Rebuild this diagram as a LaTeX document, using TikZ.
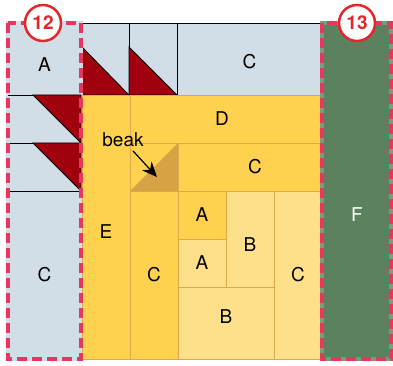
\documentclass[tikz,border=0pt]{standalone}
\usepackage{fontspec}
\setmainfont{TeX Gyre Heros}
\usepackage{xcolor}
\usepackage{tikz}
\usetikzlibrary{arrows.meta}

\definecolor{bluefill}{HTML}{D2DEE7}
\definecolor{redtri}{HTML}{A1000F}
\definecolor{yelfill}{HTML}{FED24E}
\definecolor{lightyel}{HTML}{FEE08B}
\definecolor{beakfill}{HTML}{D6A244}
\definecolor{greenfill}{HTML}{5B815E}
\definecolor{seamcol}{HTML}{DFA848}
\definecolor{cutcol}{HTML}{E8365E}
\definecolor{circcol}{HTML}{E4262A}

\begin{document}
\begin{tikzpicture}[x=1pt, y=-1pt, line width=0.8pt,
  every node/.style={font=\fontsize{19}{22}\selectfont},
  bluepc/.style={fill=bluefill, draw=black},
  bluecell/.style={fill=bluefill},
  redpc/.style={fill=redtri, draw=black},
  yelpc/.style={fill=yelfill, draw=seamcol},
  lightpc/.style={fill=lightyel, draw=seamcol},
  cutline/.style={draw=cutcol, line width=3.6pt, dash pattern=on 10pt off 5pt},
  blocknum/.style={circle, draw=circcol, fill=white, line width=2.5pt, minimum size=36pt, inner sep=0pt, text=circcol, font=\fontsize{19}{22}\selectfont\bfseries}]
\useasboundingbox (0,0) rectangle (393,366);

\draw[bluepc] (82,23) rectangle ++(47,72);
\draw[bluepc] (129,23) rectangle ++(48,72);
\draw[bluepc] (177,23) rectangle node [yshift=-3pt] {C} ++(145,72);
\draw[redpc] (82,47) -- (82,95) -- (129,95) -- cycle;
\draw[redpc] (129,47) -- (129,95) -- (177,95) -- cycle;

\draw[draw=bluefill, line width=4pt] (8,23) rectangle (81,359);
\fill[bluecell] (8,23) rectangle node [yshift=-6pt] {A} ++(73,72);
\fill[bluecell] (8,95) rectangle ++(73,48);
\fill[bluecell] (8,143) rectangle ++(73,48);
\fill[bluecell] (8,191) rectangle node [] {C} ++(73,168);
\draw (8,95) -- ++(73,0) (8,143) -- ++(73,0) (8,191) -- ++(73,0);
\draw[redpc] (33,95) -- (81,95) -- (81,143) -- cycle;
\draw[redpc] (33,143) -- (81,143) -- (81,191) -- cycle;

\draw[yelpc] (82,95) rectangle node [yshift=-5pt] {E} ++(48,264);
\draw[yelpc] (130,95) rectangle node [xshift=-4pt] {D} ++(192,48);
\draw[yelpc] (130,143) rectangle ++(48,48);
\fill[beakfill] (130,191) -- (178,143) -- (178,191) -- cycle;
\draw[yelpc] (178,143) rectangle node [xshift=5pt] {C} ++(144,48);
\draw[yelpc] (130,191) rectangle node [] {C} ++(48,168);
\draw[yelpc] (178,191) rectangle node [] {A} ++(48,48);
\draw[lightpc] (178,239) rectangle node [] {A} ++(48,48);
\draw[lightpc] (226,191) rectangle node [yshift=-6pt] {B} ++(48,96);
\draw[lightpc] (178,287) rectangle node [yshift=6pt] {B} ++(96,72);
\draw[lightpc] (274,191) rectangle node [] {C} ++(48,168);

\draw[draw=greenfill!80!white, line width=4pt, fill=greenfill] (322,23) rectangle (391,359);
\node (flabel) at (357,215) [text=white] {F};

\node (beaklbl) at (123,140) {beak};
\coordinate (beaktip) at (157,177);
\draw[-{Stealth[length=15pt,width=13pt]}, line width=1.2pt] (beaklbl) -- (beaktip);

\draw[cutline] (8,23) rectangle (81,359);
\draw[cutline] (322,23) rectangle (391,359);

\node[blocknum] (blk12) at (43,23) {12};
\node[blocknum] (blk13) at (357,23) {13};
\end{tikzpicture}
\end{document}
